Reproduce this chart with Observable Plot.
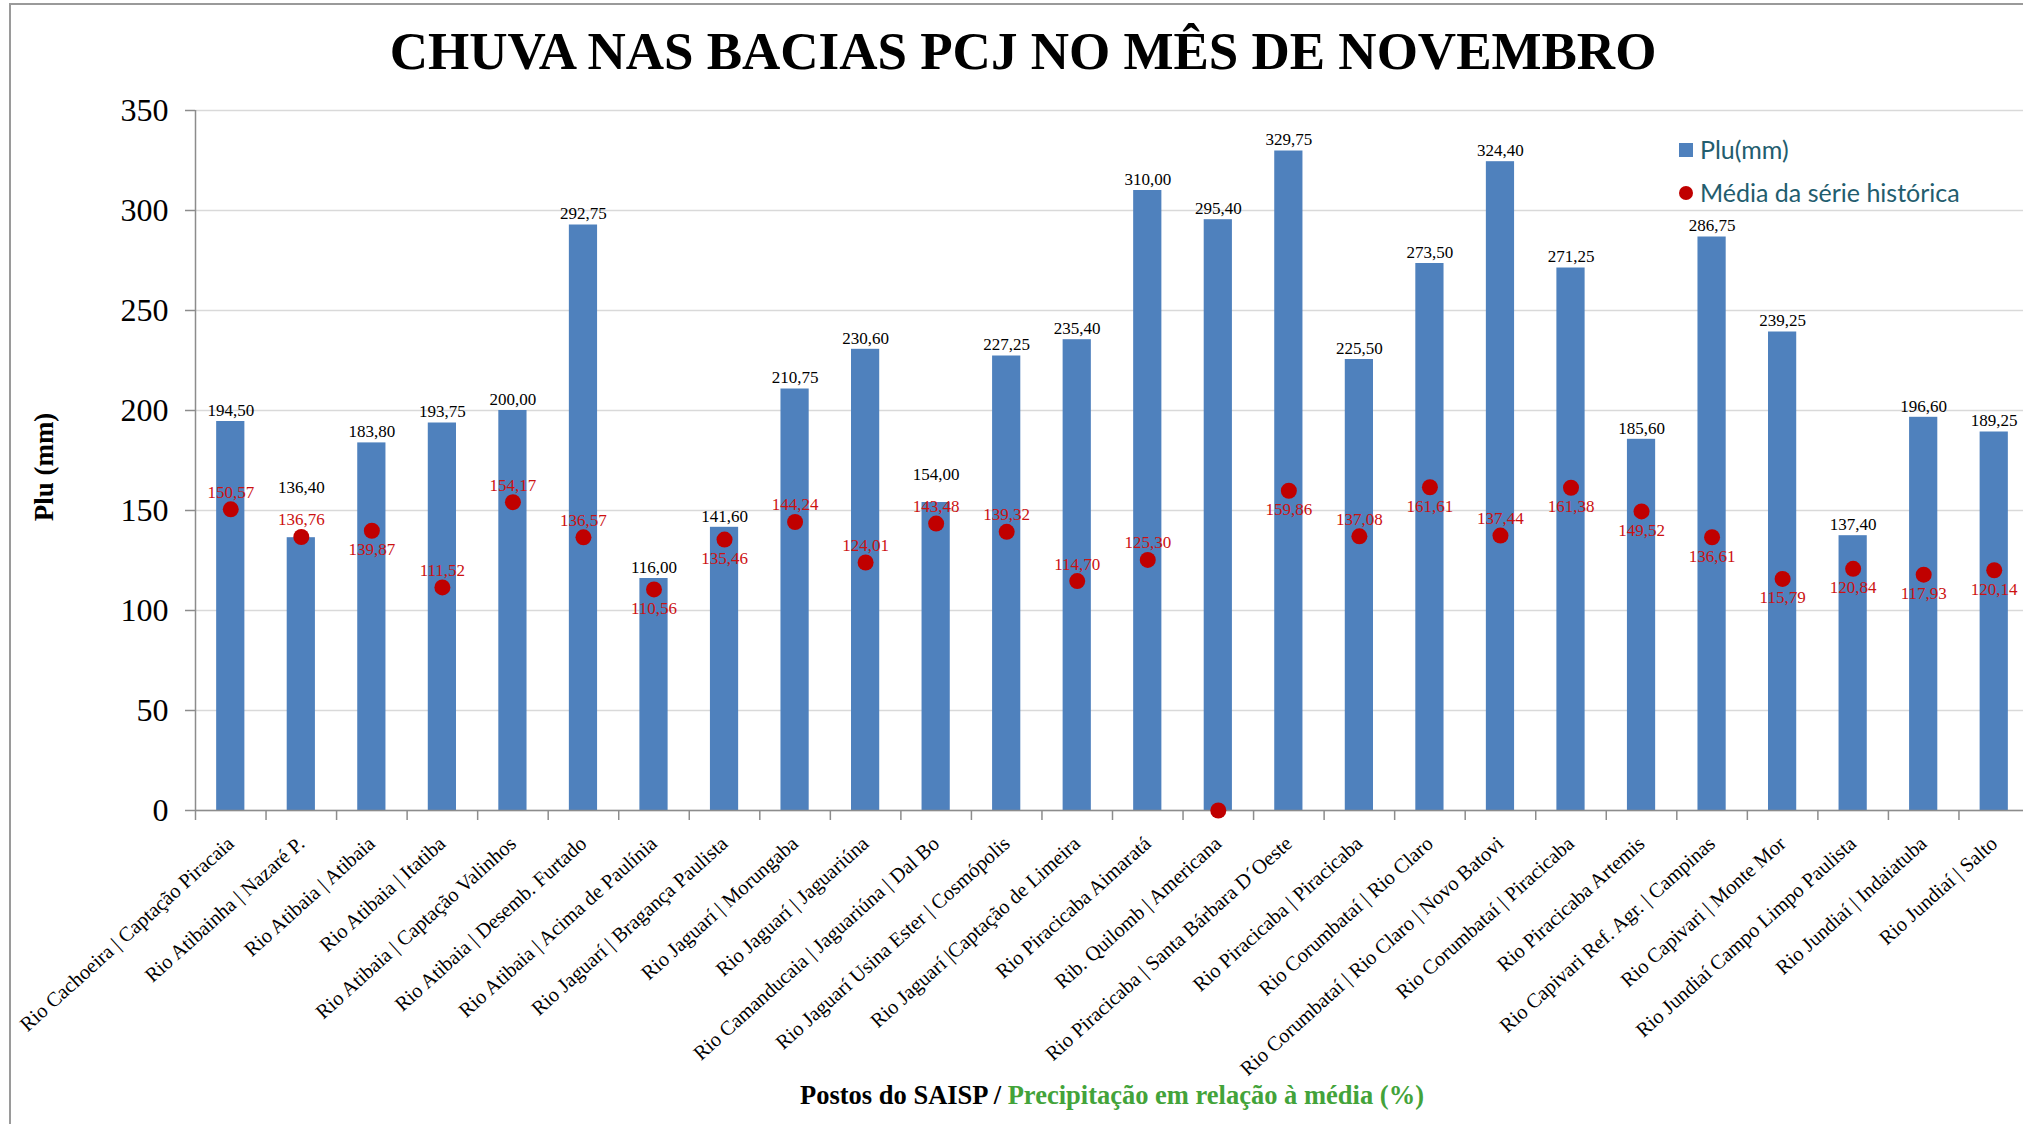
<!DOCTYPE html>
<html>
<head>
<meta charset="utf-8">
<script src="https://cdn.jsdelivr.net/npm/d3@7"></script>
<script src="https://cdn.jsdelivr.net/npm/@observablehq/plot@0.6"></script>
<style>
  html, body { margin: 0; padding: 0; background: #fff; }
  #wrap { position: relative; width: 2023px; height: 1124px; overflow: hidden; background: #fff; }
  #frame { position: absolute; left: 9px; top: 3px; right: -20px; bottom: -20px;
           border-left: 2px solid #9a9a9a; border-top: 2px solid #9a9a9a; pointer-events: none; }
  #chart { position: absolute; left: 0; top: 0; }
  #title { position: absolute; left: 0; width: 2046px; top: 25px; text-align: center;
           font: bold 53px/53px "Liberation Serif", serif; color: #000; white-space: nowrap; }
  #xtitle { position: absolute; left: 0; width: 2224px; top: 1082px; text-align: center;
            font: bold 26.5px/26px "Liberation Serif", serif; color: #000; white-space: nowrap; }
  #xtitle .g { color: #43a33a; }
  #ytitle { position: absolute; left: 44px; top: 467px; transform: translate(-50%, -50%) rotate(-90deg);
            font: bold 27px/27px "Liberation Serif", serif; color: #000; white-space: nowrap; }
  .leg { position: absolute; left: 1679px; font: 25px/25px Lato, sans-serif; color: #235d6e; white-space: nowrap; }
  .leg .sw { display: inline-block; vertical-align: middle; margin-right: 7px; }
  .leg span.t { vertical-align: middle; }
</style>
</head>
<body>
<div id="wrap">
  <div id="chart"></div>
  <div id="frame"></div>
  <div id="title">CHUVA NAS BACIAS PCJ NO MÊS DE NOVEMBRO</div>
  <div id="ytitle">Plu (mm)</div>
  <div id="xtitle">Postos do SAISP / <span class="g">Precipitação em relação à média (%)</span></div>
  <div class="leg" style="top:134px"><span class="sw" style="width:14px;height:14px;background:#4f81bd"></span><span class="t">Plu(mm)</span></div>
  <div class="leg" style="top:177px"><span class="sw" style="width:14px;height:14px;border-radius:50%;background:#c00000"></span><span class="t">Média da série histórica</span></div>
</div>
<script>
const stations = [
  "Rio Cachoeira | Captação Piracaia",
  "Rio Atibainha | Nazaré P.",
  "Rio Atibaia | Atibaia",
  "Rio Atibaia | Itatiba",
  "Rio Atibaia | Captação Valinhos",
  "Rio Atibaia | Desemb. Furtado",
  "Rio Atibaia | Acima de Paulínia",
  "Rio Jaguarí | Bragança Paulista",
  "Rio Jaguarí | Morungaba",
  "Rio Jaguarí | Jaguariúna",
  "Rio Camanducaia | Jaguariúna | Dal Bo",
  "Rio Jaguarí Usina Ester | Cosmópolis",
  "Rio Jaguarí |Captação de Limeira",
  "Rio Piracicaba Aimaratá",
  "Rib. Quilomb | Americana",
  "Rio Piracicaba | Santa Bárbara D´Oeste",
  "Rio Piracicaba | Piracicaba",
  "Rio Corumbataí | Rio Claro",
  "Rio Corumbataí | Rio Claro | Novo Batovi",
  "Rio Corumbataí | Piracicaba",
  "Rio Piracicaba Artemis",
  "Rio Capivari Ref. Agr. | Campinas",
  "Rio Capivari | Monte Mor",
  "Rio Jundiaí Campo Limpo Paulista",
  "Rio Jundiaí | Indaiatuba",
  "Rio Jundiaí | Salto"
];
const plu = [194.50, 136.40, 183.80, 193.75, 200.00, 292.75, 116.00, 141.60, 210.75, 230.60,
             154.00, 227.25, 235.40, 310.00, 295.40, 329.75, 225.50, 273.50, 324.40, 271.25,
             185.60, 286.75, 239.25, 137.40, 196.60, 189.25];
const media = [150.57, 136.76, 139.87, 111.52, 154.17, 136.57, 110.56, 135.46, 144.24, 124.01,
               143.48, 139.32, 114.70, 125.30, 0, 159.86, 137.08, 161.61, 137.44, 161.38,
               149.52, 136.61, 115.79, 120.84, 117.93, 120.14];
// which side of the red dot its value label sits on
const mediaLabelSide = ["above","above","below","above","above","above","below","below","above","above",
                        "above","above","above","above",null,"below","above","below","above","below",
                        "below","below","below","below","below","below"];
const yTicks = [0, 50, 100, 150, 200, 250, 300, 350];

const data = stations.map((s, i) => ({station: s, plu: plu[i], media: media[i], side: mediaLabelSide[i]}));
const fmt = v => d3.format(".2f")(v).replace(".", ",");

const W = 2023, H = 1124, ML = 195, MR = -6, MT = 110, MB = 314;
const step = (W - ML - MR) / stations.length;

// lift the bar label when the red label sits right on the bar top
const barLabelY = d => (d.side === "above" && Math.abs(d.plu - d.media) < 15) ? d.media + 19 : d.plu;

const chart = Plot.plot({
  width: W, height: H,
  marginLeft: ML, marginRight: MR, marginTop: MT, marginBottom: MB,
  style: {fontFamily: "'Liberation Serif', serif", background: "transparent", color: "#000"},
  x: {domain: stations, paddingInner: 0.6, paddingOuter: 0.3, round: false, label: null},
  y: {domain: [0, 350], label: null},
  marks: [
    Plot.gridY(yTicks, {stroke: "#d9d9d9", strokeOpacity: 1, strokeWidth: 1.5}),
    Plot.barY(data, {x: "station", y: "plu", fill: "#4f81bd"}),
    Plot.ruleY([0], {stroke: "#8c8c8c", strokeWidth: 1.5}),
    Plot.ruleX([stations[0]], {dx: -step / 2, stroke: "#8c8c8c", strokeWidth: 1.5}),
    Plot.axisY(yTicks, {tickSize: 10, tickPadding: 17, fontSize: 32, stroke: "#8c8c8c", strokeWidth: 1.5, label: null, fill: "#000"}),
    Plot.axisX({tickSize: 10, dx: -step / 2, tickFormat: () => "", stroke: "#8c8c8c", strokeWidth: 1.5, label: null}),
    Plot.axisX({tickSize: 0, tickPadding: 30, tickRotate: -42, fontSize: 20.5, label: null, fill: "#000"}),
    Plot.text(data, {x: "station", y: barLabelY, text: d => fmt(d.plu), dy: -11, fontSize: 17, fill: "#000"}),
    Plot.dot(data, {x: "station", y: "media", r: 8, fill: "#c00000", stroke: null}),
    Plot.text(data.filter(d => d.side === "above"), {x: "station", y: "media", text: d => fmt(d.media), dy: -17, fontSize: 17, fill: "#cc1111"}),
    Plot.text(data.filter(d => d.side === "below"), {x: "station", y: "media", text: d => fmt(d.media), dy: 19, fontSize: 17, fill: "#cc1111"})
  ]
});
document.getElementById("chart").appendChild(chart);
</script>
</body>
</html>
